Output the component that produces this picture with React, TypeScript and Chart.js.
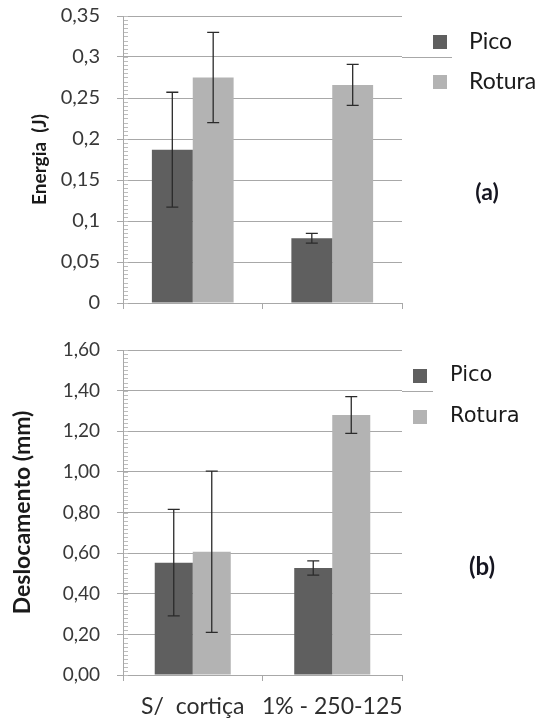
import { useEffect, useRef } from "react";
import { Chart, registerables } from "chart.js";
Chart.register(...registerables);

const categories = ["S/  cortiça", "1% - 250-125"];
const seriesNames = ["Pico", "Rotura"];

const energiaPico = [0.187, 0.079];
const energiaPicoErr = [0.07, 0.006];
const energiaRotura = [0.275, 0.266];
const energiaRoturaErr = [0.055, 0.025];
const energiaTickLabels = ["0", "0,05", "0,1", "0,15", "0,2", "0,25", "0,3", "0,35"];

const deslPico = [0.553, 0.527];
const deslPicoErr = [0.262, 0.035];
const deslRotura = [0.607, 1.28];
const deslRoturaErr = [0.397, 0.09];
const deslTickLabels = ["0,00", "0,20", "0,40", "0,60", "0,80", "1,00", "1,20", "1,40", "1,60"];

const PICO = "#5f5f5f";
const ROTURA = "#b3b3b3";
const GRID = "#a8a8a8";
const FONT = "Lato, 'Open Sans', sans-serif";

const errorBars = {
  id: "errorBars",
  afterDatasetsDraw(chart: any) {
    const { ctx } = chart;
    const y = chart.scales.y;
    chart.data.datasets.forEach((ds: any, di: number) => {
      const meta = chart.getDatasetMeta(di);
      meta.data.forEach((bar: any, i: number) => {
        const v = ds.data[i];
        const e = ds.errors[i];
        const top = y.getPixelForValue(v + e);
        const bot = y.getPixelForValue(v - e);
        const x = bar.x;
        ctx.save();
        ctx.strokeStyle = "#2b2b2b";
        ctx.lineWidth = 1.3;
        ctx.beginPath();
        ctx.moveTo(x, top);
        ctx.lineTo(x, bot);
        ctx.moveTo(x - 6, top);
        ctx.lineTo(x + 6, top);
        ctx.moveTo(x - 6, bot);
        ctx.lineTo(x + 6, bot);
        ctx.stroke();
        ctx.restore();
      });
    });
  },
};

const decorations = {
  id: "decorations",
  afterDraw(chart: any, _args: any, opts: any) {
    const { ctx, chartArea } = chart;
    const y = chart.scales.y;
    ctx.save();
    // minor ticks
    ctx.strokeStyle = "#bdbdbd";
    ctx.lineWidth = 1;
    ctx.beginPath();
    const n = Math.round((y.max - y.min) / opts.minorStep);
    for (let k = 0; k <= n; k++) {
      const py = Math.round(y.getPixelForValue(y.min + k * opts.minorStep)) + 0.5;
      ctx.moveTo(chartArea.left + 1, py);
      ctx.lineTo(chartArea.left + 5, py);
    }
    ctx.stroke();
    // extension line
    ctx.strokeStyle = GRID;
    ctx.beginPath();
    const ey = Math.round(y.getPixelForValue(opts.extendAt)) + 0.5;
    ctx.moveTo(chartArea.right, ey);
    ctx.lineTo(opts.extendTo, ey);
    ctx.stroke();
    // legend
    ctx.textBaseline = "middle";
    ctx.textAlign = "left";
    ctx.font = `${opts.legendSize}px ${opts.legendFont}`;
    chart.data.datasets.forEach((ds: any, i: number) => {
      const cy = opts.legendY[i];
      ctx.fillStyle = ds.backgroundColor;
      ctx.fillRect(opts.boxX, cy - 7, 14, 14);
      ctx.fillStyle = "#1a1a1a";
      ctx.fillText(ds.label, opts.textX, cy);
    });
    // panel tag
    ctx.font = `bold ${opts.tagSize}px ${FONT}`;
    ctx.textAlign = "center";
    ctx.fillStyle = "#151520";
    ctx.fillText(opts.tag, opts.tagX, opts.tagY);
    ctx.restore();
  },
};

function makeConfig(p: any) {
  return {
    type: "bar",
    data: {
      labels: categories,
      datasets: [
        { label: seriesNames[0], data: p.pico, errors: p.picoErr, backgroundColor: PICO, borderWidth: 0, categoryPercentage: p.catPct, barPercentage: 1 },
        { label: seriesNames[1], data: p.rotura, errors: p.roturaErr, backgroundColor: ROTURA, borderWidth: 0, categoryPercentage: p.catPct, barPercentage: 1 },
      ],
    },
    options: {
      responsive: false,
      animation: false,
      layout: { padding: p.padding },
      plugins: {
        legend: { display: false },
        tooltip: { enabled: false },
        decorations: p.deco,
      },
      scales: {
        x: {
          grid: { drawOnChartArea: false, drawTicks: true, tickLength: 6, color: GRID },
          border: { display: true, color: GRID },
          ticks: {
            display: p.showX,
            autoSkip: false,
            color: "#2e2e2e",
            padding: 12,
            font: { family: FONT, size: 23 },
            maxRotation: 0,
            minRotation: 0,
          },
          afterFit: (s: any) => {
            s.height = p.xHeight;
            s.paddingLeft = 0;
            s.paddingRight = 0;
          },
        },
        y: {
          min: 0,
          max: p.max,
          ticks: {
            stepSize: p.step,
            color: "#383838",
            padding: 17,
            font: { family: FONT, size: p.tickSize },
            callback: (_v: any, i: number) => p.tickLabels[i],
          },
          grid: { color: GRID, tickLength: 6, drawTicks: true },
          border: { display: true, color: GRID },
          title: {
            display: true,
            text: p.title,
            color: "#1a1a1a",
            font: { family: FONT, size: p.titleSize, weight: "bold" },
            padding: { top: p.titlePad, bottom: 0 },
          },
          afterFit: (s: any) => {
            s.width = 123;
            s.paddingTop = 0;
            s.paddingBottom = 0;
          },
        },
      },
    },
    plugins: [errorBars, decorations],
  };
}

function Panel({ params, width, height }: any) {
  const ref = useRef<HTMLCanvasElement>(null);
  useEffect(() => {
    const chart = new Chart(ref.current as any, makeConfig(params) as any);
    return () => chart.destroy();
  }, []);
  return <canvas ref={ref} width={width} height={height} style={{ display: "block", width, height }} />;
}

const panelA = {
  pico: energiaPico,
  picoErr: energiaPicoErr,
  rotura: energiaRotura,
  roturaErr: energiaRoturaErr,
  tickLabels: energiaTickLabels,
  max: 0.35,
  step: 0.05,
  tickSize: 20,
  title: "Energia  (J)",
  titleSize: 19,
  titlePad: 28,
  catPct: 0.586,
  showX: false,
  xHeight: 6,
  padding: { top: 16, bottom: 11, left: 0, right: 139 },
  deco: {
    minorStep: 0.005,
    extendAt: 0.3,
    extendTo: 452,
    legendY: [42, 82],
    boxX: 433,
    textX: 469,
    legendSize: 23,
    legendFont: FONT,
    tag: "(a)",
    tagSize: 23,
    tagX: 487,
    tagY: 193,
  },
};

const panelB = {
  pico: deslPico,
  picoErr: deslPicoErr,
  rotura: deslRotura,
  roturaErr: deslRoturaErr,
  tickLabels: deslTickLabels,
  max: 1.6,
  step: 0.2,
  tickSize: 19,
  title: "Deslocamento (mm)",
  titleSize: 23,
  titlePad: 9,
  catPct: 0.545,
  showX: true,
  xHeight: 48,
  padding: { top: 30, bottom: 0, left: 0, right: 139 },
  deco: {
    minorStep: 0.02,
    extendAt: 1.4,
    extendTo: 433,
    legendY: [56, 97],
    boxX: 413,
    textX: 450,
    legendSize: 21,
    legendFont: "'DejaVu Sans', sans-serif",
    tag: "(b)",
    tagSize: 24,
    tagX: 482,
    tagY: 247,
  },
};

export default function App() {
  return (
    <div style={{ position: "fixed", left: 0, top: 0, width: 541, height: 723, background: "#ffffff" }}>
      <Panel params={panelA} width={541} height={320} />
      <Panel params={panelB} width={541} height={403} />
    </div>
  );
}
